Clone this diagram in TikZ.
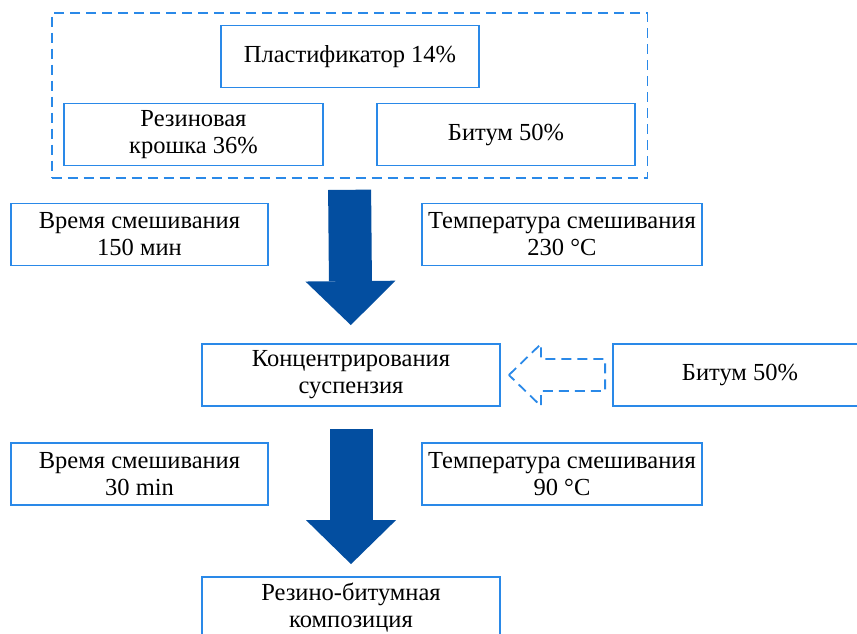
\documentclass[tikz,border=0pt]{standalone}
\usepackage{fontspec}
\setmainfont{Liberation Serif}
\usetikzlibrary{fit,calc,arrows.meta}
\definecolor{boxblue}{RGB}{42,137,232}
\definecolor{arrblue}{RGB}{3,78,160}
\begin{document}
\begin{tikzpicture}[x=1pt,y=-1pt,nodes={draw=boxblue,line width=1.8pt,rectangle,align=center,minimum height=62pt,inner sep=0pt,font=\rmfamily\fontsize{24.5}{27}\selectfont},
  grp/.style={dash pattern=on 10pt off 6pt,inner sep=11.5pt},
  arr/.style={draw=arrblue,line width=43pt,-{Triangle[line width=0pt,width=90pt,length=44pt,fill=arrblue]}},
  hollow/.style={draw=boxblue,line width=1.8pt,dash pattern=on 10pt off 6pt,line join=miter}]

      \useasboundingbox (0,0) rectangle (857,633);

      \node[minimum width=258pt] (1) at (350,56.5) {Пластификатор 14\%};
      \node[minimum width=259pt] (2) at (193.5,134.5) {Резиновая\\крошка 36\%};
      \node[minimum width=258pt] (3) at (506,134.5) {Битум 50\%};
      \node[grp,fit=(1)(2)(3)] (4) {};
      \node[minimum width=257pt] (5) at (139.5,234.5) {Время смешивания\\150 мин};
      \node[minimum width=280pt] (6) at (562,234.5) {Температура смешивания\\230 °C};
      \node[minimum width=298pt] (7) at (351,375) {Концентрирования\\суспензия};
      \node[minimum width=254pt] (8) at (740,375) {Битум 50\%};
      \node[minimum width=257pt] (9) at (139.5,474) {Время смешивания\\30 min};
      \node[minimum width=280pt] (10) at (562,474) {Температура смешивания\\90 °C};
      \node[minimum width=298pt] (11) at (351,608) {Резино-битумная\\композиция};

      \draw[arr,shorten <=11pt,shorten >=18pt] (4.south) -- (7.north);
      \draw[arr,shorten <=22pt,shorten >=12pt] (7.south) -- (11.north);
      \draw[hollow] ($(7.east)+(8,0)$) -- ++(32,-31) -- ++(0,15) -- ($(8.west)+(-7,-16)$)
        -- ($(8.west)+(-7,16)$) -- ($(7.east)+(40,16)$) -- ++(0,15) -- cycle;

    \end{tikzpicture}
\end{document}
